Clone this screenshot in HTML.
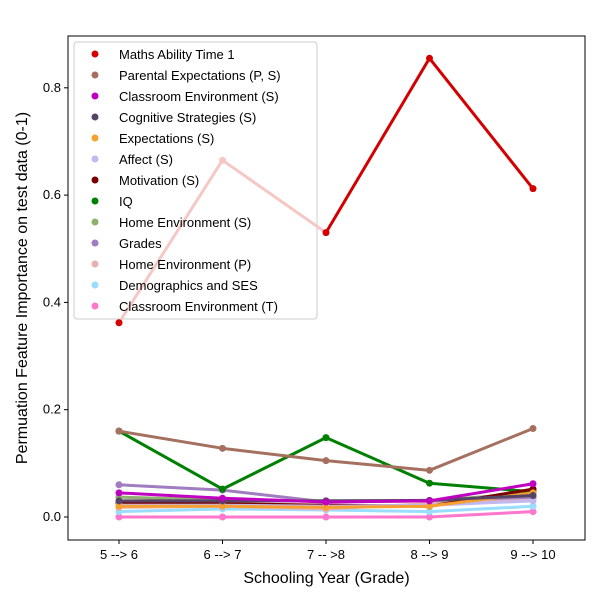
<!DOCTYPE html>
<html><head><meta charset="utf-8"><style>
body{margin:0;background:#fff;font-family:"Liberation Sans","DejaVu Sans",sans-serif}
</style></head><body>
<svg id="c" width="600" height="600" xmlns="http://www.w3.org/2000/svg"></svg>
<script>
const categories=["5 --> 6","6 --> 7","7 -- >8","8 --> 9","9 --> 10"];
const yTicks=[0.0,0.2,0.4,0.6,0.8];
const seriesNames=["Maths Ability Time 1","Parental Expectations (P, S)","Classroom Environment (S)","Cognitive Strategies (S)","Expectations (S)","Affect (S)","Motivation (S)","IQ","Home Environment (S)","Grades","Home Environment (P)","Demographics and SES","Classroom Environment (T)"];
const seriesColors=["#d40000","#a57060","#c000c0","#554466","#f5a030","#c0b8f0","#770000","#008000","#90b070","#a07cc0","#e8b0b0","#99ddff","#ff77cc"];
const maths=[0.362,0.665,0.53,0.855,0.612];
const parental=[0.16,0.128,0.105,0.087,0.165];
const classroomS=[0.045,0.035,0.028,0.03,0.062];
const cognitive=[0.03,0.03,0.03,0.031,0.04];
const expectations=[0.02,0.02,0.018,0.02,0.045];
const affect=[0.022,0.022,0.02,0.022,0.03];
const motivation=[0.026,0.025,0.022,0.02,0.052];
const iq=[0.16,0.052,0.148,0.063,0.047];
const homeS=[0.037,0.032,0.03,0.03,0.045];
const grades=[0.06,0.05,0.028,0.03,0.037];
const homeP=[0.018,0.02,0.015,0.025,0.035];
const demo=[0.01,0.015,0.013,0.01,0.02];
const classT=[0,0,0,0,0.01];
const allSeries=[maths,parental,classroomS,cognitive,expectations,affect,motivation,iq,homeS,grades,homeP,demo,classT];
const L=68,R=585,T=36,B=540;
const xs=i=>119+i*103.5;
const ys=v=>517-536.5*v;
const svg=document.getElementById('c');
const NS="http://www.w3.org/2000/svg";
function el(t,a,p){const e=document.createElementNS(NS,t);for(const k in a)e.setAttribute(k,a[k]);(p||svg).appendChild(e);return e;}
const frame=el('rect',{x:L,y:T,width:R-L,height:B-T,fill:'none',stroke:'#000','stroke-width':1});


yTicks.forEach(v=>{const y=ys(v);el('line',{x1:L-4,x2:L,y1:y,y2:y,stroke:'#000'});
const t=el('text',{x:L-7,y:y+4,'text-anchor':'end','font-size':13});t.textContent=v.toFixed(1);

});
categories.forEach((c,i)=>{const x=xs(i);el('line',{x1:x,x2:x,y1:B,y2:B+4,stroke:'#000'});
const t=el('text',{x:x,y:B+19,'text-anchor':'middle','font-size':13});t.textContent=c;

});
const xt=el('text',{x:(L+R)/2,y:583,'text-anchor':'middle','font-size':16});xt.textContent="Schooling Year (Grade)";


const yt=el('text',{x:0,y:0,'text-anchor':'middle','font-size':16,transform:`translate(27,${(T+B)/2}) rotate(-90)`});yt.textContent="Permuation Feature Importance on test data (0-1)";


const lgbg=el('rect',{x:74,y:42,width:243,height:277,rx:3,fill:'#fff',stroke:'#ccc'});


for(let s=allSeries.length-1;s>=0;s--){
 const d=allSeries[s],col=seriesColors[s];
 const g=el('g',{});
 
 
 for(let i=0;i<d.length-1;i++){
  let c=col;
  if(s===0&&i<2)c='#f5c8c5';
  el('line',{x1:xs(i),y1:ys(d[i]),x2:xs(i+1),y2:ys(d[i+1]),stroke:c,'stroke-width':3},g);
 }
 d.forEach((v,i)=>{const p=el('circle',{cx:xs(i),cy:ys(v),r:3.5,fill:(s===0&&i===1)?'#f5c8c5':col},g);
 
 });
}
const lg=el('g',{});


seriesNames.forEach((n,i)=>{const y=54+i*21;
 el('circle',{cx:95,cy:y,r:3.5,fill:seriesColors[i]},lg);
 const t=el('text',{x:119,y:y+5,'font-size':13},lg);t.textContent=n;
 
 });
</script>
</body></html>
